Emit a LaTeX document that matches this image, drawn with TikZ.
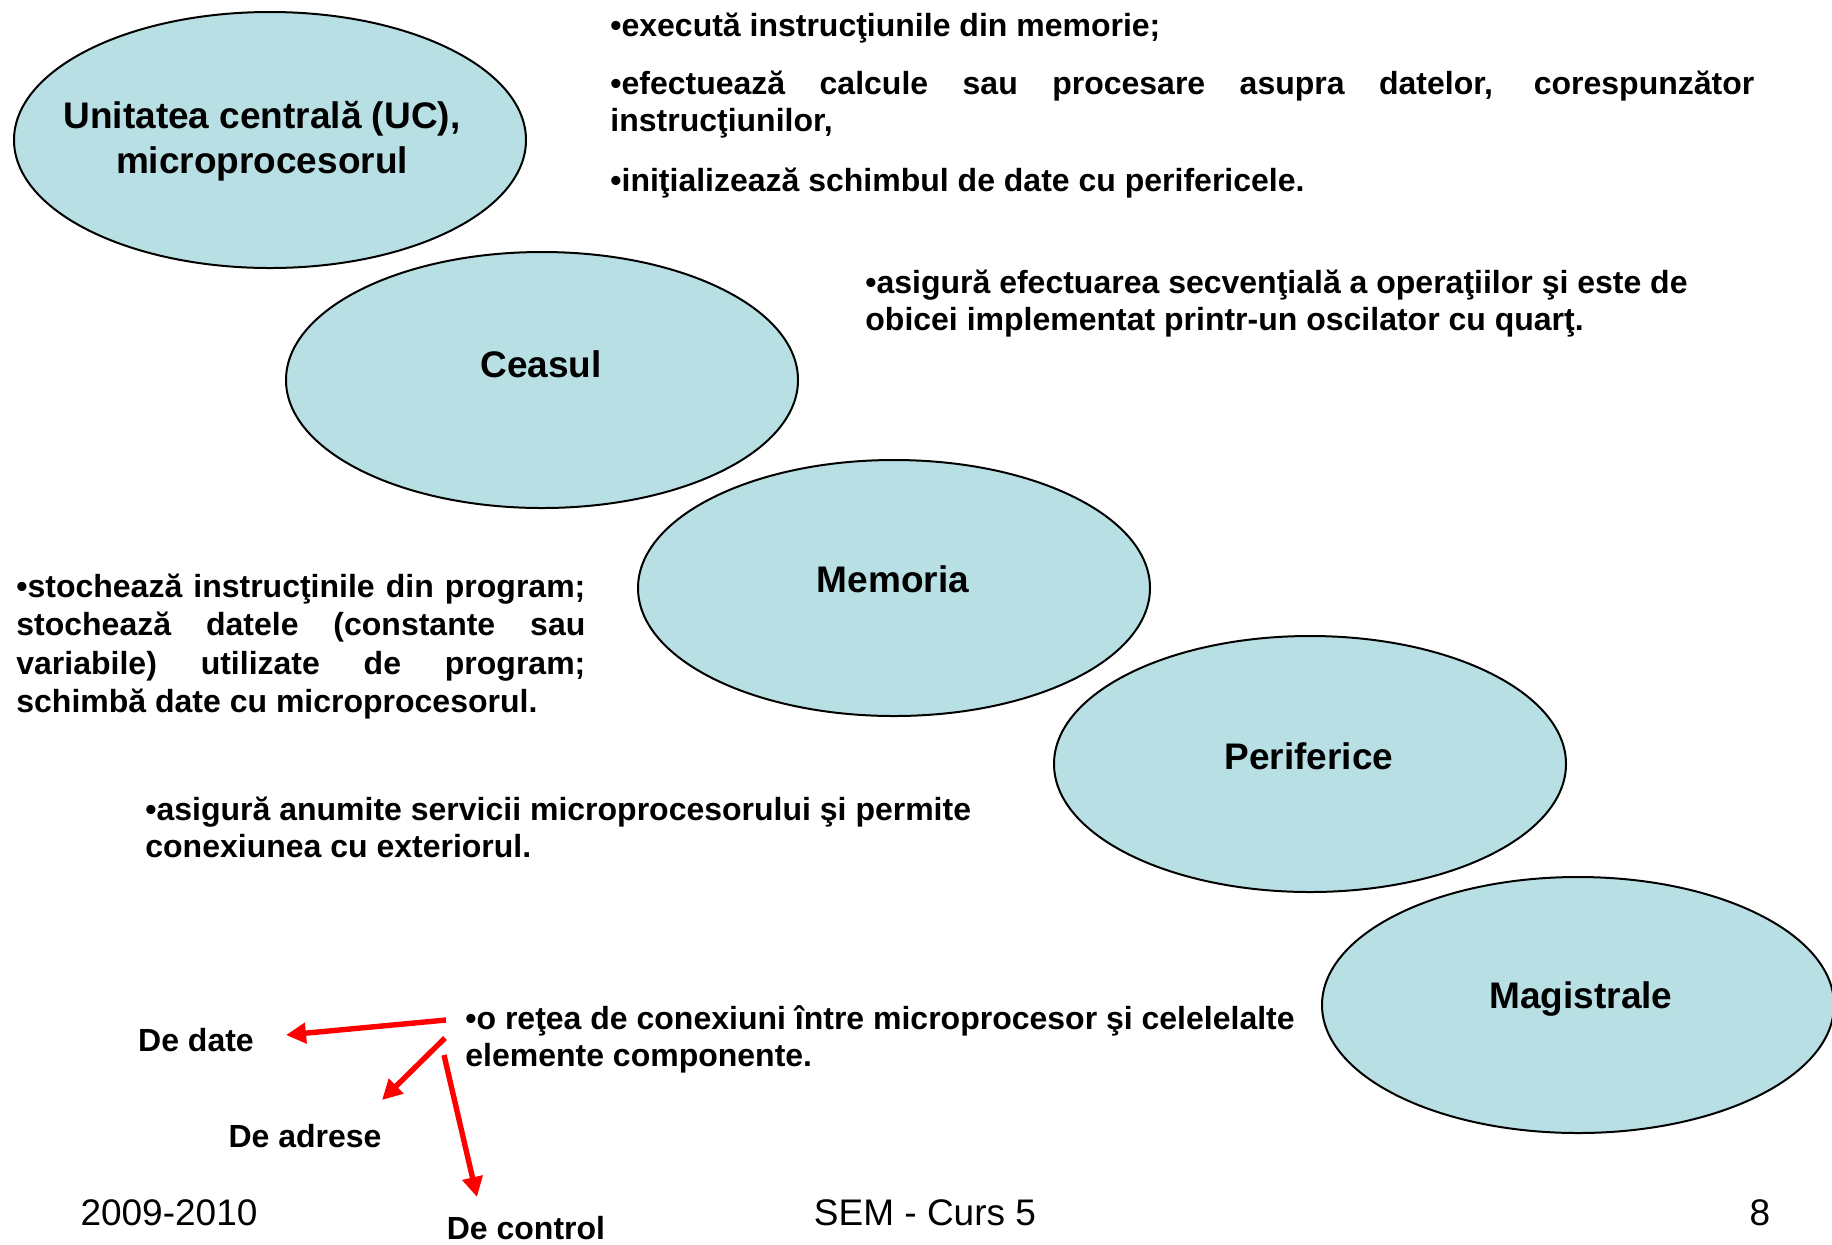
\documentclass[tikz,border=0pt]{standalone}
\usepackage{fontspec}
\setmainfont{Liberation Sans}
\usetikzlibrary{shapes.geometric,arrows.meta}
\definecolor{bubblefill}{HTML}{B8DFE3}
\definecolor{arrowred}{HTML}{FF0000}
\tikzset{
  bubble/.style={ellipse, draw=black, line width=1pt, fill=bubblefill, minimum width=256pt, minimum height=128pt, inner sep=0pt},
  btitle/.style={font=\bfseries\fontsize{18.5}{22.5}\selectfont, align=center, inner sep=0pt},
  body/.style={font=\bfseries\fontsize{16}{18.75}\selectfont, inner sep=0pt, anchor=base west},
  foot/.style={font=\fontsize{18.5}{22}\selectfont, inner sep=0pt},
  redarrow/.style={draw=arrowred, line width=2.7pt, -{Triangle[length=10pt,width=10pt]}}
}
\begin{document}
\begin{tikzpicture}[x=0.5pt, y=-0.5pt]
\fill[white] (0,0) rectangle (1832,1244);
\useasboundingbox (0,0) rectangle (1832,1244);

% ellipses
\node[bubble] (uc) at (270,140) {};
\node[btitle] (uctxt) at (262,141) {Unitatea centrală (UC),\\microprocesorul};
\node[bubble] (ceas) at (542,380) {};
\node[btitle] (ceastxt) at (541,364) {Ceasul};
\node[bubble] (mem) at (894,588) {};
\node[btitle] (memtxt) at (893,579) {Memoria};
\node[bubble] (per) at (1310,764) {};
\node[btitle] (pertxt) at (1309,756) {Periferice};
\node[bubble] (mag) at (1578,1005) {};
\node[btitle] (magtxt) at (1581,999) {Magistrale};

% descriptions
\node[body] (p1) at (610,36) {•execută instrucţiunile din memorie;};
\node[body, text width=572pt, align=justify] (p2) at (610,94) {•efectuează calcule sau procesare asupra datelor, corespunzător\linebreak instrucţiunilor,};
\node[body] (p3) at (610,191) {•iniţializează schimbul de date cu perifericele.};

\node[body, align=left] (c1) at (865,330.5) {•asigură efectuarea secvenţială a operaţiilor şi este de\\obicei implementat printr-un oscilator cu quarţ.};

\node[body, text width=284.5pt, align=justify, font=\bfseries\fontsize{16}{19.25}\selectfont] (m1) at (16,597) {•stochează instrucţinile din program;\linebreak stochează datele (constante sau\linebreak variabile) utilizate de program;\linebreak schimbă date cu microprocesorul.};

\node[body, align=left] (pf1) at (145,857.5) {•asigură anumite servicii microprocesorului şi permite\\conexiunea cu exteriorul.};

\node[body, align=left] (mg1) at (465,1066.5) {•o reţea de conexiuni între microprocesor şi celelelalte\\elemente componente.};

% bus types
\node[body, anchor=center] (dd) at (196,1040) {De date};
\node[body, anchor=center] (da) at (305,1136) {De adrese};
\node[body, anchor=center] (dc) at (526,1228) {De control};

\coordinate (s1) at (446,1020);
\coordinate (e1) at (286,1035);
\coordinate (s2) at (445,1038);
\coordinate (e2) at (382,1100);
\coordinate (s3) at (444,1055);
\coordinate (e3) at (477,1197);
\draw[redarrow] (s1) -- (e1);
\draw[redarrow] (s2) -- (e2);
\draw[redarrow] (s3) -- (e3);

% footer
\node[foot] (f1) at (169,1213) {2009-2010};
\node[foot] (f2) at (925,1213) {SEM - Curs 5};
\node[foot] (f3) at (1760,1213) {8};
\end{tikzpicture}
\end{document}
